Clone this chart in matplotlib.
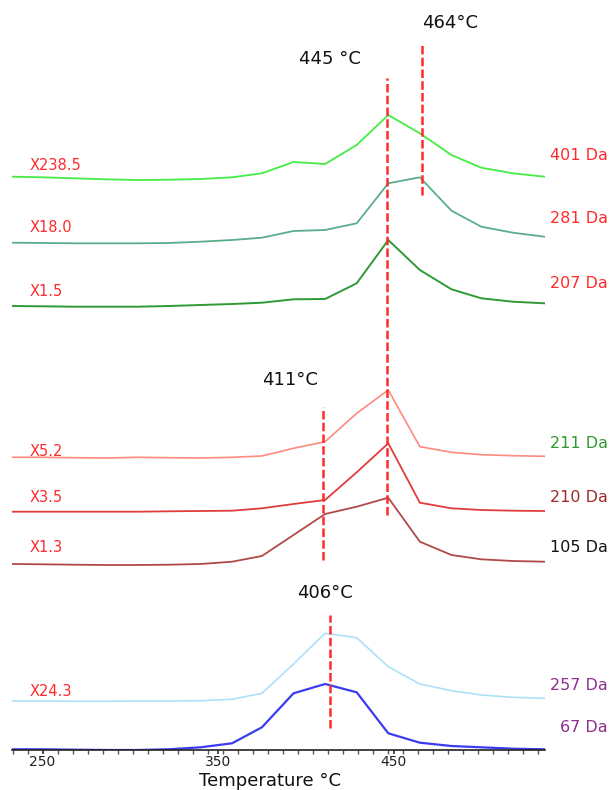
import matplotlib
matplotlib.use("Agg")
import matplotlib.pyplot as plt
from matplotlib.ticker import FixedLocator
import numpy as np

W, H = 612, 790

# temperature grid of the scans (°C)
temps = [233, 250, 268, 286, 304, 322, 340, 358, 375, 393, 411, 429, 447, 465, 483, 500, 518, 536]

# offset traces (stacked intensity, arbitrary units)
s401 = [573.3, 572.7, 571.7, 570.7, 570.0, 570.3, 571.0, 572.7, 576.7, 588.0, 586.0, 605.0, 635.0, 616.7, 595.0, 582.3, 576.7, 573.3]
s281 = [507.3, 507.0, 506.7, 506.7, 506.7, 507.0, 508.3, 510.0, 512.3, 519.0, 520.0, 526.7, 566.7, 572.7, 539.3, 523.3, 517.3, 513.3]
s207 = [444.0, 443.7, 443.3, 443.3, 443.3, 444.0, 445.0, 446.0, 447.3, 450.7, 451.0, 466.7, 510.0, 480.0, 460.7, 451.7, 448.3, 446.7]
s211 = [292.7, 292.7, 292.3, 292.0, 292.7, 292.3, 292.0, 292.7, 294.0, 301.7, 308.3, 336.7, 360.0, 303.3, 297.7, 295.3, 294.3, 293.7]
s210 = [238.3, 238.3, 238.3, 238.3, 238.3, 238.7, 239.0, 239.3, 241.7, 246.0, 250.0, 277.7, 306.7, 247.3, 241.7, 240.0, 239.3, 239.0]
s105 = [186.0, 185.7, 185.3, 185.0, 185.0, 185.3, 186.0, 188.3, 194.0, 215.0, 236.0, 243.3, 252.3, 208.3, 195.0, 190.7, 189.0, 188.3]
s257 = [49.0, 49.0, 48.7, 48.7, 49.0, 49.0, 49.3, 50.7, 56.7, 86.0, 116.7, 112.3, 83.3, 66.0, 59.3, 55.0, 52.7, 51.7]
s67 = [0.7, 0.7, 0.3, 0.0, 0.0, 0.7, 2.7, 6.7, 22.7, 56.7, 66.0, 57.7, 16.7, 7.3, 4.0, 2.7, 1.3, 0.7]

series = [s401, s281, s207, s211, s210, s105, s257, s67]
series_colors = ["#44ec44", "#5aae8a", "#2f9a35", "#ff8a80", "#e23b3b", "#b04a4a", "#aee0f8", "#3b3bf0"]
series_lw = [1.3, 1.3, 1.4, 1.2, 1.3, 1.3, 1.2, 1.6]

scale_labels = ["X238.5", "X18.0", "X1.5", "X5.2", "X3.5", "X1.3", "X24.3"]
scale_label_py = [166, 228, 291, 451, 497, 548, 692]

mass_labels = ["401 Da", "281 Da", "207 Da", "211 Da", "210 Da", "105 Da", "257 Da", "67 Da"]
mass_colors = ["#ff2a2a", "#ff2a2a", "#ff2a2a", "#2e9a2e", "#9a2d2d", "#111111", "#8e2f8e", "#8e2f8e"]
mass_label_py = [156, 219, 283, 443, 497, 547, 685, 728]

peak_labels = ["464°C", "445 °C", "411°C", "406°C"]
peak_x = [466, 446, 410, 414]
peak_top = [707, 672, 343, 135]
peak_bottom = [555, 235, 190, 22]
peak_label_pos = [(450, 23), (330, 59), (290, 380), (325, 593)]

xticks = [250, 350, 450]

fig = plt.figure(figsize=(W / 100, H / 100), dpi=100)
ax_left, ax_right, ax_bottom_px = 12, 545, 750
ax = fig.add_axes([ax_left / W, (H - ax_bottom_px) / H, (ax_right - ax_left) / W, ax_bottom_px / H])

for ys, c, lw in zip(series, series_colors, series_lw):
    ax.plot(temps, ys, color=c, lw=lw, solid_joinstyle="miter")

for x, y0, y1 in zip(peak_x, peak_bottom, peak_top):
    ax.plot([x, x], [y0, y1], color="#ff2a2a", lw=1.8, dashes=(3.4, 1.3))

ax.set_xlim(232.6, 536.3)
ax.set_ylim(0, 750)
for s in ["left", "right", "top"]:
    ax.spines[s].set_visible(False)
ax.spines["bottom"].set_color("#222222")
ax.spines["bottom"].set_linewidth(1.2)
ax.set_yticks([])
ax.set_xticks(xticks)
ax.set_xticklabels([str(t) for t in xticks], fontsize=10, color="#222222")
ax.xaxis.set_minor_locator(FixedLocator(list(np.arange(250 - 2 * 8.55, 537, 8.55))))
ax.tick_params(axis="x", which="major", length=3, width=1.2, pad=0.5, color="#333333")
ax.tick_params(axis="x", which="minor", length=3, width=1.0, color="#555555")
ax.patch.set_alpha(0)

def ftext(px, py, s, **kw):
    fig.text(px / W, 1 - py / H, s, **kw)

for s, py in zip(scale_labels, scale_label_py):
    ftext(30, py, s, color="#ff2a2a", fontsize=10.5, ha="left", va="center")

for s, c, py in zip(mass_labels, mass_colors, mass_label_py):
    ftext(608, py, s, color=c, fontsize=11.5, ha="right", va="center")

for s, (px, py) in zip(peak_labels, peak_label_pos):
    ftext(px, py, s, color="#111111", fontsize=13, ha="center", va="center")

# axis title
ftext(270, 786, "Temperature °C", color="#111111", fontsize=13, ha="center", va="baseline")

fig.savefig("out.png", dpi=100)
